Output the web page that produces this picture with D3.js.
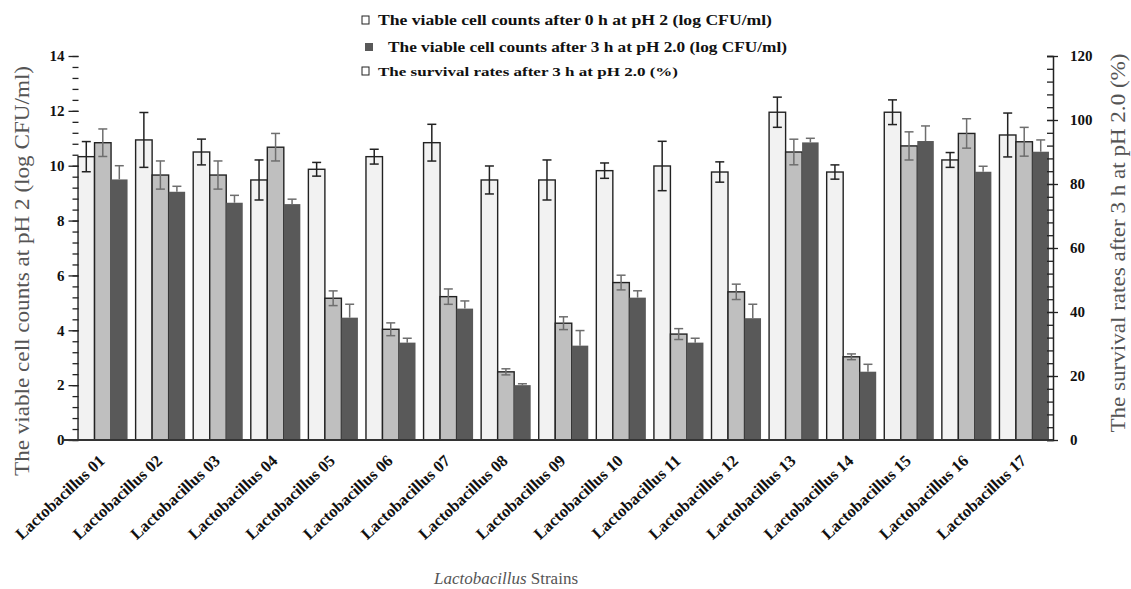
<!DOCTYPE html>
<html><head><meta charset="utf-8">
<script src="https://cdn.jsdelivr.net/npm/d3@7"></script>
<style>body{margin:0;background:#fff}svg{display:block}text{font-family:"Liberation Serif","Times New Roman",serif}</style>
</head><body>
<svg id="c" width="1131" height="589"></svg>
<script>
const strains = ["Lactobacillus 01","Lactobacillus 02","Lactobacillus 03","Lactobacillus 04","Lactobacillus 05","Lactobacillus 06","Lactobacillus 07","Lactobacillus 08","Lactobacillus 09","Lactobacillus 10","Lactobacillus 11","Lactobacillus 12","Lactobacillus 13","Lactobacillus 14","Lactobacillus 15","Lactobacillus 16","Lactobacillus 17"];
const count0h    = [10.33,10.94,10.5,9.48,9.87,10.33,10.84,9.48,9.48,9.82,9.99,9.77,11.95,9.77,11.95,10.21,11.12];
const count0hErr = [0.55,1.0,0.47,0.73,0.25,0.27,0.67,0.51,0.73,0.28,0.9,0.37,0.55,0.26,0.45,0.27,0.8];
const survival    = [92.9,82.8,82.8,91.5,44.3,34.6,44.8,21.3,36.5,49.2,33.1,46.3,90.0,26.0,91.9,95.8,93.2];
const survivalErr = [4.3,4.4,4.4,4.3,2.3,2.0,2.4,0.95,2.0,2.3,1.7,2.4,4.0,0.9,4.4,4.6,4.5];
const count3h    = [9.5,9.05,8.65,8.6,4.46,3.55,4.79,2.0,3.44,5.19,3.55,4.44,10.85,2.49,10.9,9.78,10.51];
const count3hErr = [0.5,0.2,0.27,0.18,0.49,0.16,0.28,0.05,0.55,0.25,0.16,0.51,0.15,0.27,0.55,0.2,0.43];
const leftTicks = [0,2,4,6,8,10,12,14];
const rightTicks = [0,20,40,60,80,100,120];
const legendLabels = ["The viable cell counts  after 0 h at pH 2 (log CFU/ml)","The viable cell counts  after 3 h at pH 2.0 (log CFU/ml)","The survival rates after 3 h at pH 2.0 (%)"];

const svg = d3.select("#c");
const x0 = 78.5, x1 = 1053, yTop = 56, yBot = 440;
const x = d3.scaleBand().domain(strains).range([74, x1]).paddingInner(0.14).paddingOuter(0.07);
const sub = d3.scaleBand().domain(["c0","surv","c3"]).range([0, x.bandwidth()]);
const yL = d3.scaleLinear().domain([0,14]).range([yBot, yTop]);
const yR = d3.scaleLinear().domain([0,120]).range([yBot, yTop]);

const series = [
  {key:"c0", vals:count0h, errs:count0hErr, y:yL, fill:"#f2f2f2", stroke:"#222", ec:"#222", full:true},
  {key:"surv", vals:survival, errs:survivalErr, y:yR, fill:"#bfbfbf", stroke:"#222", ec:"#6e6e6e", full:true},
  {key:"c3", vals:count3h, errs:count3hErr, y:yL, fill:"#595959", stroke:"none", ec:"#6e6e6e", full:false}
];

// bars
series.forEach(s => {
  svg.append("g").selectAll("rect").data(strains).join("rect")
    .attr("x", (d)=> x(d)+sub(s.key))
    .attr("y", (d,i)=> s.y(s.vals[i]))
    .attr("width", sub.bandwidth())
    .attr("height", (d,i)=> yBot - s.y(s.vals[i]))
    .attr("fill", s.fill)
    .attr("stroke", s.stroke)
    .attr("stroke-width", 1.4);
});
// error bars
series.forEach(s => {
  const g = svg.append("g").attr("stroke", s.ec).attr("stroke-width", 1.5).attr("fill","none");
  strains.forEach((d,i) => {
    const cx = x(d)+sub(s.key)+sub.bandwidth()/2;
    const hi = s.y(s.vals[i]+s.errs[i]);
    const lo = s.full ? s.y(s.vals[i]-s.errs[i]) : s.y(s.vals[i]);
    g.append("line").attr("x1",cx).attr("x2",cx).attr("y1",hi).attr("y2",lo);
    g.append("line").attr("x1",cx-4.5).attr("x2",cx+4.5).attr("y1",hi).attr("y2",hi);
    if (s.full) g.append("line").attr("x1",cx-4.5).attr("x2",cx+4.5).attr("y1",lo).attr("y2",lo);
  });
});

// left axis
const gl = svg.append("g").attr("transform", `translate(${x0},0)`);
gl.call(d3.axisLeft(yL).tickValues(d3.range(0,14.01,0.4)).tickSize(6).tickFormat(""))
  .call(g=>g.select(".domain").remove())
  .call(g=>g.selectAll("line").attr("stroke","#222").attr("stroke-width",1.3));
gl.append("g").call(d3.axisLeft(yL).tickValues(leftTicks).tickSize(10).tickPadding(4).tickFormat(d3.format("d")))
  .call(g=>g.select(".domain").remove())
  .call(g=>g.selectAll("line").attr("stroke","#222").attr("stroke-width",1.3))
  .call(g=>g.selectAll("text").attr("font-size",15).attr("font-weight","bold").attr("fill","#111")
     .style("font-family",'"Liberation Serif",serif'));

// right axis
const gr = svg.append("g").attr("transform", `translate(${x1},0)`);
gr.call(d3.axisLeft(yR).tickValues(d3.range(0,120.1,4)).tickSize(6).tickFormat(""))
  .call(g=>g.selectAll("line").attr("stroke","#222").attr("stroke-width",1.3))
  .call(g=>g.select(".domain").attr("stroke","#222").attr("stroke-width",1.5));
gr.append("g").call(d3.axisRight(yR).tickValues(rightTicks).tickSize(5).tickPadding(12).tickFormat(d3.format("d")))
  .call(g=>g.select(".domain").remove())
  .call(g=>g.selectAll("line").attr("stroke","#222").attr("stroke-width",1.3).attr("x1",-6))
  .call(g=>g.selectAll("text").attr("font-size",15).attr("font-weight","bold").attr("fill","#111")
     .style("font-family",'"Liberation Serif",serif'));

// baseline
svg.append("line").attr("x1",62).attr("x2",x1).attr("y1",yBot).attr("y2",yBot).attr("stroke","#333").attr("stroke-width",1.8);

// x tick labels
svg.append("g").selectAll("text").data(strains).join("text")
  .attr("transform", d => `translate(${x(d)+x.bandwidth()/2+3},${yBot+22}) rotate(-43)`)
  .attr("text-anchor","end")
  .attr("font-size",16.5).attr("font-weight","bold").attr("fill","#111")
  .text(d=>d);

// axis titles
svg.append("text").attr("transform",`translate(29,271) rotate(-90)`).attr("text-anchor","middle")
  .attr("font-size",21).attr("fill","#555").attr("textLength",410).attr("lengthAdjust","spacingAndGlyphs")
  .text("The viable cell counts at pH 2 (log CFU/ml)");
svg.append("text").attr("transform",`translate(1125,243) rotate(-90)`).attr("text-anchor","middle")
  .attr("font-size",21).attr("fill","#555").attr("textLength",379).attr("lengthAdjust","spacingAndGlyphs")
  .text("The survival rates after 3 h at pH 2.0 (%)");
const xt = svg.append("text").attr("x",506).attr("y",584).attr("text-anchor","middle").attr("font-size",17).attr("fill","#555");
xt.append("tspan").attr("font-style","italic").text("Lactobacillus");
xt.append("tspan").text(" Strains");

// legend
const lg = svg.append("g");
const legY = [20, 47, 71];
const legX = [378, 388, 378];
const legFs = [14, 14, 12.5];
const legLen = [394, 399, 300];
lg.selectAll("text").data(legendLabels).join("text")
  .attr("x",(d,i)=>legX[i]).attr("y",(d,i)=>legY[i]+5)
  .attr("font-size",(d,i)=>legFs[i]).attr("font-weight","bold").attr("fill","#111")
  .attr("textLength",(d,i)=>legLen[i]).attr("lengthAdjust","spacingAndGlyphs")
  .text(d=>d);
lg.append("rect").attr("x",362).attr("y",legY[0]-4).attr("width",7).attr("height",8).attr("fill","#fff").attr("stroke","#222").attr("stroke-width",1);
lg.append("rect").attr("x",365).attr("y",legY[1]-4).attr("width",8).attr("height",8).attr("fill","#595959");
lg.append("rect").attr("x",362).attr("y",legY[2]-4).attr("width",7).attr("height",8).attr("fill","#fff").attr("stroke","#222").attr("stroke-width",1);
</script>
</body></html>
